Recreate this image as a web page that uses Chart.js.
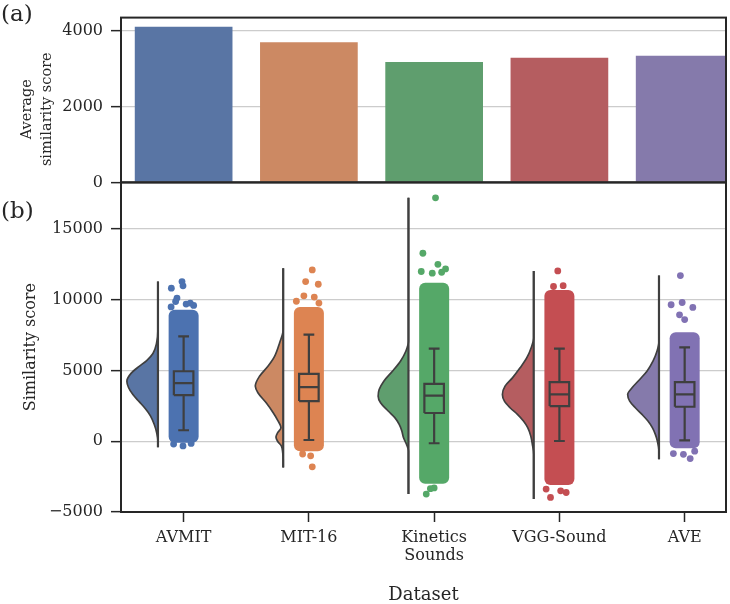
<!DOCTYPE html>
<html>
<head>
<meta charset="utf-8">
<script src="https://cdn.jsdelivr.net/npm/chart.js@4.4.1/dist/chart.umd.min.js"></script>
<style>
  html, body { margin: 0; padding: 0; background: #fff; }
</style>
</head>
<body>
<canvas id="chart" width="730" height="604"></canvas>
<script>
// Categories and tick labels
const datasetNames = ['AVMIT', 'MIT-16', ['Kinetics', 'Sounds'], 'VGG-Sound', 'AVE'];
const topTicks = [0, 2000, 4000];
const bottomTicks = [-5000, 0, 5000, 10000, 15000];

// (a) average similarity score per dataset
const avgScore = [4100, 3690, 3170, 3280, 3335];

// (b) box plot stats
const whiskerLow = [780, 90, -140, 20, 70];
const q1 = [3260, 2840, 2000, 2490, 2440];
const median = [4110, 3830, 3220, 3310, 3310];
const q3 = [4950, 4770, 4060, 4180, 4180];
const whiskerHigh = [7420, 7540, 6550, 6550, 6640];

// strip: dense band of points (low, high)
const stripLow = [-100, -700, -3000, -3100, -500];
const stripHigh = [9300, 9500, 11200, 10700, 7700];

// violin extent (min / max of the data)
const violinTop = [11290, 12230, 17210, 12040, 11710];
const violinBottom = [-420, -1850, -3730, -4080, -1270];

// half-violin density: [score, half width in category units]
const kdeAVMIT = [[7900, 0], [6900, 0.012], [6200, 0.04], [5700, 0.09], [5300, 0.15], [4800, 0.215], [4250, 0.248],
  [3800, 0.235], [3300, 0.2], [2800, 0.15], [2300, 0.1], [1800, 0.06], [1200, 0.03], [600, 0.01], [0, 0]];
const kdeMIT16 = [[7900, 0], [6950, 0.029], [6000, 0.069], [5300, 0.122], [4600, 0.189], [3900, 0.223], [3430, 0.202],
  [2720, 0.136], [2020, 0.08], [1500, 0.045], [950, 0.018], [600, 0.045], [300, 0.058], [0, 0.045], [-330, 0.015],
  [-800, 0.004], [-1270, 0]];
const kdeKinetics = [[7070, 0], [6360, 0.021], [5660, 0.064], [4950, 0.128], [4250, 0.197], [3660, 0.234], [3190, 0.242],
  [2720, 0.223], [2140, 0.162], [1670, 0.109], [1200, 0.074], [730, 0.053], [260, 0.04], [-210, 0.016], [-680, 0]];
const kdeVGG = [[7300, 0], [6600, 0.021], [5890, 0.056], [5190, 0.109], [4480, 0.17], [3900, 0.229], [3310, 0.25],
  [2840, 0.234], [2370, 0.189], [1900, 0.13], [1430, 0.082], [960, 0.048], [380, 0.024], [-210, 0.011], [-920, 0]];
const kdeAVE = [[7070, 0], [6360, 0.016], [5660, 0.048], [4950, 0.096], [4370, 0.154], [3780, 0.215], [3310, 0.25],
  [2840, 0.234], [2370, 0.189], [1900, 0.136], [1430, 0.088], [960, 0.053], [490, 0.029], [20, 0.013], [-680, 0]];

// outlying strip points: [jitter, score]
const outAVMIT = [[-0.098, 10820], [-0.013, 11290], [-0.005, 10990], [-0.053, 10120], [-0.064, 9880], [0.053, 9770],
  [0.08, 9600], [-0.1, 9500], [0.02, 9700], [-0.005, -330], [0.06, -150], [-0.08, -200]];
const outMIT16 = [[0.027, 12110], [-0.026, 11290], [0.075, 11100], [-0.04, 10280], [0.043, 10190], [0.08, 9770],
  [-0.1, 9900], [0.014, -1030], [0.027, -1810], [-0.05, -900]];
const outKinetics = [[0.011, 17210], [-0.09, 13290], [0.03, 12510], [-0.103, 12000], [-0.015, 11880], [0.091, 12180],
  [0.06, 11950], [-0.063, -3730], [0.0, -3300], [-0.03, -3350]];
const outVGG = [[-0.013, 12040], [-0.047, 10940], [0.03, 11000], [-0.071, -3970], [0.054, -3620], [-0.106, -3380],
  [0.01, -3500]];
const outAVE = [[-0.034, 11710], [-0.108, 9650], [-0.02, 9810], [0.065, 9460], [-0.041, 8940], [0.0, 8600],
  [0.044, -1220], [-0.01, -920], [-0.09, -870], [0.08, -700]];

const kdes = [kdeAVMIT, kdeMIT16, kdeKinetics, kdeVGG, kdeAVE];
const outliers = [outAVMIT, outMIT16, outKinetics, outVGG, outAVE];

const softColors = ['#5975a4', '#cc8963', '#5f9e6e', '#b55d60', '#857aab'];
const pointColors = ['#4c72b0', '#dd8452', '#55a868', '#c44e52', '#8172b3'];
const INK = '#262626';
const BOX_INK = '#3f3f3f';

const VIOLIN_OFFSET = -0.205;
const BOX_HALF = 0.078;
const CAP_HALF = 0.043;

Chart.defaults.font.family = '"DejaVu Serif"';
Chart.defaults.font.size = 16;
Chart.defaults.color = INK;

const sets = [];
const gap = () => ({ x: null, y: null });

// box plots + flat violin edges, one line dataset with gaps
const boxData = [];
datasetNames.forEach((_, i) => {
  const l = i - BOX_HALF, r = i + BOX_HALF;
  const edge = i + VIOLIN_OFFSET;
  boxData.push(
    { x: l, y: q1[i] }, { x: r, y: q1[i] }, { x: r, y: q3[i] }, { x: l, y: q3[i] }, { x: l, y: q1[i] }, gap(),
    { x: l, y: median[i] }, { x: r, y: median[i] }, gap(),
    { x: i, y: q3[i] }, { x: i, y: whiskerHigh[i] }, gap(),
    { x: i - CAP_HALF, y: whiskerHigh[i] }, { x: i + CAP_HALF, y: whiskerHigh[i] }, gap(),
    { x: i, y: q1[i] }, { x: i, y: whiskerLow[i] }, gap(),
    { x: i - CAP_HALF, y: whiskerLow[i] }, { x: i + CAP_HALF, y: whiskerLow[i] }, gap(),
    { x: edge, y: violinTop[i] }, { x: edge, y: violinBottom[i] }, gap()
  );
});
sets.push({
  type: 'line', data: boxData, yAxisID: 'yB', borderColor: BOX_INK, borderWidth: 2.2,
  borderCapStyle: 'butt', pointRadius: 0, tension: 0, spanGaps: false, fill: false, order: 0
});

// outlying points
outliers.forEach((pts, i) => {
  sets.push({
    type: 'line', showLine: false, data: pts.map(([dx, v]) => ({ x: i + dx, y: v })), yAxisID: 'yB',
    pointRadius: 3.4, pointBorderWidth: 0, pointBackgroundColor: pointColors[i],
    pointBorderColor: pointColors[i], order: 1
  });
});

// dense part of the strip
sets.push({
  type: 'bar', data: stripHigh.map((h, i) => ({ x: i, y: [stripLow[i], h] })), yAxisID: 'yB',
  backgroundColor: pointColors, maxBarThickness: 30, borderRadius: 6, borderSkipped: false,
  grouped: false, order: 2
});

// half violins
kdes.forEach((kde, i) => {
  const edge = i + VIOLIN_OFFSET;
  const pts = [{ x: edge, y: violinTop[i] }];
  kde.forEach(([v, w]) => pts.push({ x: edge - w, y: v }));
  pts.push({ x: edge, y: violinBottom[i] });
  sets.push({
    type: 'line', indexAxis: 'y', data: pts, yAxisID: 'yB', xAxisID: 'x',
    borderColor: BOX_INK, borderWidth: 1.7, backgroundColor: softColors[i],
    fill: { value: edge }, cubicInterpolationMode: 'monotone', pointRadius: 0, order: 3
  });
});

// (a) bars
sets.push({
  type: 'bar', data: avgScore.map((v, i) => ({ x: i, y: v })), yAxisID: 'yA',
  backgroundColor: softColors, barPercentage: 0.78, categoryPercentage: 1, grouped: false, order: 4
});

const minus = v => (v < 0 ? '\u2212' + Math.abs(v) : String(v));

const yCommon = {
  type: 'linear', position: 'left', stack: 'panels',
  grid: { color: '#cccccc', lineWidth: 1.3, tickLength: 10, tickColor: INK, tickWidth: 1.5 },
  border: { color: INK, width: 2 },
  ticks: { padding: 8, callback: minus, font: { size: 16 } },
  afterFit: s => { s.width = 121; }
};

const framePlugin = {
  id: 'frame',
  afterDatasetsDraw(chart) {
    const { ctx, chartArea: a, scales } = chart;
    ctx.save();
    ctx.strokeStyle = INK;
    ctx.lineWidth = 2;
    ['yA', 'yB'].forEach(id => {
      const s = scales[id];
      ctx.strokeRect(a.left, s.top, a.right - a.left, s.bottom - s.top);
    });
    ctx.restore();
  },
  afterDraw(chart) {
    const { ctx, scales } = chart;
    ctx.save();
    ctx.font = '23px "DejaVu Serif"';
    ctx.fillStyle = INK;
    ctx.textBaseline = 'middle';
    ctx.fillText('(a)', 1, scales.yA.top - 3);
    ctx.fillText('(b)', 1, scales.yB.top + 30);
    ctx.restore();
  }
};

new Chart(document.getElementById('chart'), {
  type: 'bar',
  data: { datasets: sets },
  options: {
    responsive: false,
    animation: false,
    layout: { padding: { top: 17, right: 4, left: 0, bottom: 0 } },
    plugins: { legend: { display: false }, tooltip: { enabled: false } },
    scales: {
      x: {
        type: 'linear', min: -0.5, max: 4.33, offset: false,
        afterBuildTicks: s => { s.ticks = datasetNames.map((_, i) => ({ value: i })); },
        ticks: {
          callback: v => datasetNames[v], padding: 6, autoSkip: false, maxRotation: 0,
          font: { size: 16, lineHeight: 1.17 }
        },
        grid: { offset: false, drawOnChartArea: false, tickLength: 10, tickColor: INK, tickWidth: 1.5 },
        border: { color: INK, width: 2 },
        title: { display: true, text: 'Dataset', font: { size: 18, lineHeight: 1 }, padding: { top: 0, bottom: 0 } },
        afterFit: s => { s.height = 92; }
      },
      yA: Object.assign({}, yCommon, {
        axis: 'y', stackWeight: 1, weight: 2, min: 0, max: 4340,
        afterBuildTicks: s => { s.ticks = topTicks.map(v => ({ value: v })); },
        title: {
          display: true, text: ['Average    ', 'similarity score    '],
          font: { size: 14.5, lineHeight: 1.4 }, padding: { top: 17, bottom: 0 }
        }
      }),
      yB: Object.assign({}, yCommon, {
        axis: 'y', stackWeight: 2, weight: 1, min: -5000, max: 18300,
        afterBuildTicks: s => { s.ticks = bottomTicks.map(v => ({ value: v })); },
        title: {
          display: true, text: 'Similarity score',
          font: { size: 16, lineHeight: 1.2 }, padding: { top: 21, bottom: 0 }
        }
      })
    }
  },
  plugins: [framePlugin]
});
</script>
</body>
</html>
